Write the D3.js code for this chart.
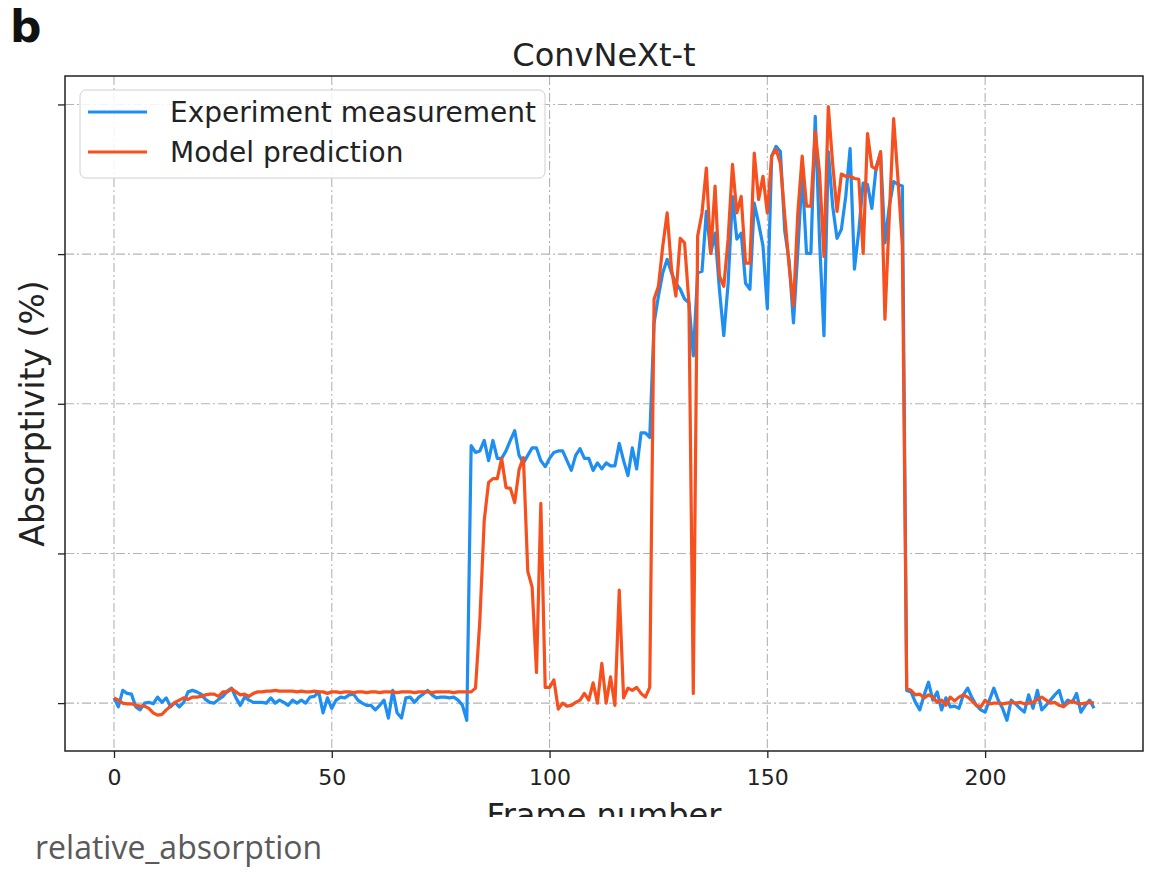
<!DOCTYPE html>
<html>
<head>
<meta charset="utf-8">
<script src="https://cdn.jsdelivr.net/npm/d3@7"></script>
<style>
  body { margin: 0; background: #fff; }
  .grid line { stroke: #b4b4b4; stroke-width: 1.1; stroke-dasharray: 9,3,2,3; }
  .line { fill: none; stroke-width: 3.2; stroke-linejoin: round; }
</style>
</head>
<body>
<div id="chart"></div>
<script>

// frame numbers 0..225
var frames = d3.range(0, 226);

var measured = [
  0.7,-0.5,1.7,1.3,1.2,-0.5,-0.9,0,0.1,-0.1,
  0.8,0.1,0.7,-0.5,0.1,-0.5,0.1,1.5,1.7,1.5,
  1.2,0.5,0.1,0,0.5,0.9,1.6,2.0,0.7,-0.3,
  0.8,0.4,0.1,0.1,0.1,0,0.7,0,0.4,0.1,
  -0.3,0.4,0,0.4,0,0.8,0.9,1.5,-1.3,0.7,
  -0.7,0.4,0.8,0.7,1.1,1.2,0.4,0,-0.3,-0.3,
  -0.9,-0.3,0.4,-2.0,1.7,-1.3,-2.0,0.7,0.8,0.1,
  0.8,1.2,1.7,1.1,0.7,0.8,0.8,0.7,0.8,0.4,
  -0.3,-2.3,34.4,33.5,33.7,35.1,32.4,35.1,32.7,32.7,
  33.7,35.1,36.4,33.1,32.1,33.1,34.1,34.1,32.4,31.6,
  32.7,33.5,33.7,33.7,32.4,31.1,33.1,34.0,32.7,32.7,
  31.1,32.1,31.3,32.1,31.7,31.7,34.7,32.4,30.4,34.1,
  31.3,36.1,36.1,35.5,50.8,54.4,57.5,59.3,57.5,56.1,
  55.3,54.0,53.5,46.4,57.5,57.7,65.7,60.1,62.8,55.3,
  49.1,56.1,67.7,62.0,62.8,56.1,55.3,66.8,64.1,61.1,
  52.7,73.1,74.4,73.7,63.1,59.1,50.8,60.4,70.8,60.1,
  60.1,78.4,61.7,49.1,73.7,66.4,62.1,63.3,67.7,74.1,
  58.0,63.1,69.5,69.3,66.1,71.7,73.5,61.5,66.4,69.7,
  69.3,69.1,1.7,1.5,0.1,-0.9,1.1,2.8,0.4,1.5,
  -0.9,0.7,-0.5,-0.4,-0.7,1.1,2.0,0.7,-0.3,-0.9,
  -1.2,0.4,2.0,0.4,-0.7,-2.3,0.4,-0.1,-0.7,-1.2,
  1.1,-0.7,1.7,-0.9,-0.3,0.4,1.1,1.7,-0.3,0.4,
  0.1,1.3,-1.2,-0.3,0.4,-0.7
];

// Model prediction (absorptivity %)
var predicted = [
  0.7,0.4,0,-0.1,-0.1,-0.3,-0.4,-0.4,-0.7,-1.3,
  -1.6,-1.5,-0.9,-0.4,0.1,0.4,0.7,0.5,0.8,0.8,
  0.9,1.1,1.2,1.2,0.9,1.5,1.5,1.9,1.5,1.1,
  1.2,0.9,1.3,1.5,1.5,1.6,1.6,1.7,1.6,1.6,
  1.6,1.6,1.5,1.6,1.5,1.5,1.6,1.5,1.5,1.3,
  1.5,1.5,1.4,1.5,1.5,1.4,1.5,1.5,1.4,1.5,
  1.5,1.4,1.5,1.5,1.5,1.4,1.5,1.5,1.5,1.4,
  1.5,1.5,1.5,1.4,1.5,1.5,1.5,1.5,1.4,1.5,
  1.5,1.5,1.5,2.0,11.1,24.4,29.5,30.0,30.0,32.7,
  28.8,28.7,26.8,31.2,32.8,17.6,15.5,4.1,26.7,2.1,
  2.1,3.1,-0.8,0,-0.4,-0.3,0.1,0.4,1.3,0.4,
  2.7,0,5.3,0,3.5,-0.3,15.1,0.7,2.0,1.7,
  2.1,1.3,0.8,2.1,54.0,55.7,61.1,65.5,58.0,54.4,
  62.1,61.5,53.5,1.3,62.4,65.5,71.5,60.1,69.1,57.1,
  55.7,62.0,72.0,65.5,67.7,58.8,58.8,73.5,67.3,70.4,
  65.5,73.1,74.0,72.1,65.1,58.4,53.1,65.5,73.1,66.4,
  66.4,76.4,70.8,59.7,79.7,72.1,65.7,70.7,70.4,70.4,
  70.1,70.0,60.1,76.1,71.7,71.3,73.7,51.3,65.1,78.1,
  70.0,61.1,2.0,1.7,1.1,1.2,0.7,1.1,0.8,0.1,
  0.4,-0.3,0.8,0.3,0.8,1.1,0.8,0.3,-0.3,-0.5,
  0.4,-0.1,0,0,-0.1,0,0.1,0,0.1,-0.1,
  0,0.1,0.5,0.8,0.4,0,0.1,-0.3,-0.5,0,
  0.3,0,-0.1,0,0.1,0
];

var xTicks = [0, 50, 100, 150, 200];
var yTicks = [0, 20, 40, 60, 80];
var seriesNames = ["Experiment measurement", "Model prediction"];
var seriesColors = ["#1e8ef0", "#f5501e"];

var W = 1153, H = 872;
var margin = {top: 76, right: 10, bottom: 121, left: 65},
    width = W - margin.left - margin.right,
    height = H - margin.top - margin.bottom;

var svg = d3.select("#chart").append("svg")
    .attr("width", W).attr("height", H)
    .style("font-family", "'DejaVu Sans', sans-serif");

var g = svg.append("g")
    .attr("transform", "translate(" + margin.left + "," + margin.top + ")");

// matplotlib-like 5% margins
var xMin = d3.min(frames), xMax = d3.max(frames), xPad = (xMax - xMin) * 0.05;
var allY = measured.concat(predicted);
var yMin = d3.min(allY), yMax = d3.max(allY), yPad = (yMax - yMin) * 0.05;

var x = d3.scaleLinear().domain([xMin - xPad, xMax + xPad]).range([0, width]);
var y = d3.scaleLinear().domain([yMin - yPad, yMax + yPad]).range([height, 0]);

// grid
g.append("g").attr("class", "grid")
  .selectAll("line.v").data(xTicks).enter().append("line")
    .attr("x1", function(d) { return x(d); }).attr("x2", function(d) { return x(d); })
    .attr("y1", 0).attr("y2", height);
g.append("g").attr("class", "grid")
  .selectAll("line.h").data(yTicks).enter().append("line")
    .attr("y1", function(d) { return y(d); }).attr("y2", function(d) { return y(d); })
    .attr("x1", 0).attr("x2", width);

// lines
var series = [measured, predicted];
series.forEach(function(vals, i) {
  g.append("path")
    .datum(frames)
    .attr("class", "line")
    .attr("stroke", seriesColors[i])
    .attr("d", d3.line()
      .x(function(d) { return x(d); })
      .y(function(d) { return y(vals[d]); }));
});

// axes
var xAxis = g.append("g")
  .attr("transform", "translate(0," + height + ")")
  .call(d3.axisBottom(x).tickValues(xTicks).tickSize(7).tickPadding(11));
var yAxis = g.append("g")
  .call(d3.axisLeft(y).tickValues(yTicks).tickSize(7).tickFormat(""));
[xAxis, yAxis].forEach(function(a) {
  a.select(".domain").remove();
  a.selectAll(".tick line").attr("stroke", "#222").attr("stroke-width", 1.3);
});
xAxis.selectAll("text").attr("font-size", 22).attr("fill", "#222")
  .attr("font-family", "'DejaVu Sans', sans-serif");

// frame box
g.append("rect")
  .attr("width", width).attr("height", height)
  .attr("fill", "none").attr("stroke", "#222").attr("stroke-width", 1.5);

// legend
var leg = g.append("g").attr("transform", "translate(15,14)");
leg.append("rect")
  .attr("width", 465).attr("height", 88).attr("rx", 6)
  .attr("fill", "white").attr("fill-opacity", 0.85)
  .attr("stroke", "#d0d0d0").attr("stroke-width", 1);
seriesNames.forEach(function(name, i) {
  var yy = 22 + i * 40;
  leg.append("line")
    .attr("x1", 8).attr("x2", 67).attr("y1", yy).attr("y2", yy)
    .attr("stroke", seriesColors[i]).attr("stroke-width", 3.2);
  leg.append("text")
    .attr("x", 90).attr("y", yy + 10)
    .attr("font-size", 28).attr("fill", "#222")
    .text(name);
});

// title
svg.append("text")
  .attr("x", margin.left + width / 2).attr("y", 66)
  .attr("text-anchor", "middle").attr("font-size", 32).attr("fill", "#222")
  .text("ConvNeXt-t");

// y label
svg.append("text")
  .attr("transform", "translate(44," + (margin.top + height / 2) + ") rotate(-90)")
  .attr("text-anchor", "middle").attr("font-size", 33).attr("fill", "#222")
  .text("Absorptivity (%)");

// x label, cut off at the bottom like the screenshot
svg.append("clipPath").attr("id", "cut")
  .append("rect").attr("x", 0).attr("y", 0).attr("width", W).attr("height", 817);
svg.append("text")
  .attr("clip-path", "url(#cut)")
  .attr("x", margin.left + width / 2).attr("y", 826)
  .attr("text-anchor", "middle").attr("font-size", 32).attr("fill", "#222")
  .text("Frame number");

// panel letter
svg.append("text")
  .attr("x", 10).attr("y", 42)
  .attr("font-size", 44).attr("font-weight", "bold").attr("fill", "#111")
  .text("b");

// caption under the figure
svg.append("text")
  .attr("x", 35).attr("y", 859)
  .attr("font-family", "'Open Sans', sans-serif")
  .attr("font-size", 32).attr("fill", "#5a5a5a")
  .text("relative_absorption");

</script>
</body>
</html>
